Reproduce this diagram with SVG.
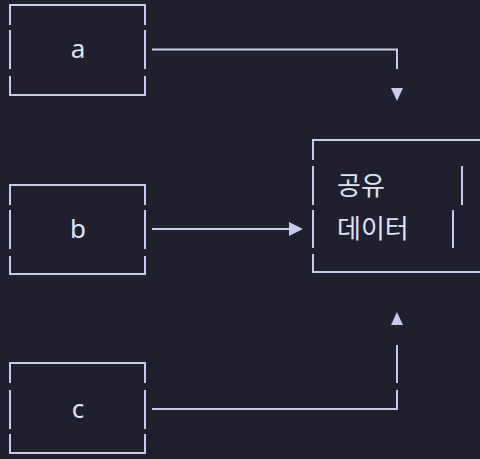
<svg xmlns="http://www.w3.org/2000/svg" width="480" height="459" viewBox="0 0 480 459">
<style>
.ln{stroke:#c5cbea;stroke-width:2;fill:none}
.ah{fill:#c5cbea}
.t{font-family:"Noto Sans","Noto Sans CJK KR",sans-serif;font-size:26px;fill:#dfe3f5}
.k{font-family:"Noto Sans CJK KR","Noto Sans",sans-serif;font-size:26px;fill:#dfe3f5}
</style>
<rect width="480" height="459" fill="#1f1f2d"/>
<g id="node-a">
<path class="ln" d="M10,25V5H145V25M10,30V69M145,30V69M10,76V95H145V76"/>
<text class="t" x="78" y="58" text-anchor="middle">a</text>
</g>
<g id="node-b">
<path class="ln" d="M10,205V185H145V205M10,210V249M145,210V249M10,256V274H145V256"/>
<text class="t" x="78" y="238" text-anchor="middle">b</text>
</g>
<g id="node-c">
<path class="ln" d="M10,383V363H145V383M10,390V429M145,390V429M10,434V453H145V434"/>
<text class="t" x="78" y="418" text-anchor="middle">c</text>
</g>
<g id="node-shared">
<path class="ln" d="M313,160V140H480M313,166V205M313,210V248M313,254V272H480M462,166V205M453,210V248"/>
<text class="k" x="337" y="195">공유</text>
<text class="k" x="337" y="238">데이터</text>
</g>
<g id="connectors">
<path class="ln" d="M152,49.5H397V69"/>
<polygon class="ah" points="391,88 403,88 397,101"/>
<path class="ln" d="M152,229H290"/>
<polygon class="ah" points="289,222 303,229 289,236"/>
<path class="ln" d="M152,409H397V390M397,383V345"/>
<polygon class="ah" points="391,325 403,325 397,312"/>
</g>
</svg>
